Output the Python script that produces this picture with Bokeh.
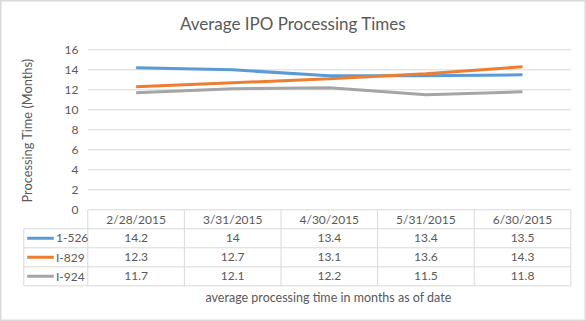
import math
from bokeh.plotting import figure
from bokeh.models import Range1d, Label
from bokeh.core.properties import value
from bokeh.embed import file_html
from bokeh.resources import INLINE

# ---------------- data ----------------
dates = ["2/28/2015", "3/31/2015", "4/30/2015", "5/31/2015", "6/30/2015"]
series_names = ["1-526", "I-829", "I-924"]
i526 = [14.2, 14, 13.4, 13.4, 13.5]
i829 = [12.3, 12.7, 13.1, 13.6, 14.3]
i924 = [11.7, 12.1, 12.2, 11.5, 11.8]
y_ticks = [0, 2, 4, 6, 8, 10, 12, 14, 16]
title_text = "Average IPO Processing Times"
y_label = "Processing Time (Months)"
x_label = "average processing time in months as of date"

series = [i526, i829, i924]
colors = ["#5B9BD5", "#ED7D31", "#A5A5A5"]

# ---------------- layout (pixels) ----------------
W, H = 586, 321
FONT = "Lato"
TXT = "#595959"
GRID = "#D9D9D9"
plot_left, plot_right = 87.3, 570.3
y0_px = 209.3          # pixel row of value 0
px_per_unit = 10.0     # pixels per month on the value axis
n = len(dates)
cat_w = (plot_right - plot_left) / n

x_start = -0.5 - plot_left / cat_w
x_end = -0.5 + (W - plot_left) / cat_w
y_end = y0_px / px_per_unit
y_start = -(H - y0_px) / px_per_unit

def dx(px):
    return x_start + px / cat_w

def dy(px):
    return y_end - px / px_per_unit

p = figure(width=W, height=H, output_backend="svg", toolbar_location=None,
           x_range=Range1d(x_start, x_end), y_range=Range1d(y_start, y_end),
           x_axis_location=None, y_axis_location=None, min_border=0,
           tools="")
p.grid.visible = False
p.outline_line_color = GRID
p.outline_line_width = 2
p.background_fill_color = "white"
p.border_fill_color = "white"

# gridlines
p.segment(x0=[-0.5] * len(y_ticks), x1=[n - 0.5] * len(y_ticks), y0=y_ticks, y1=y_ticks,
          line_color=GRID, line_width=1)

# y tick labels
p.text(x=[dx(78)] * len(y_ticks), y=y_ticks, text=[str(t) for t in y_ticks],
       text_align="right", text_baseline="middle", text_font=value(FONT),
       text_font_size="12px", text_color=TXT)

# series lines
xs = list(range(n))
for s, c in zip(series, colors):
    p.line(x=xs, y=s, line_color=c, line_width=3)

# data table
row_h = 19.0 / px_per_unit
n_rows = len(series)
tbl_left = dx(23.3)
bottom = -row_h * (n_rows + 1)
# horizontal lines
hy = [-row_h * (k + 1) for k in range(n_rows + 1)]
p.segment(x0=[tbl_left] * len(hy), x1=[n - 0.5] * len(hy), y0=hy, y1=hy,
          line_color=GRID, line_width=1)
# vertical lines (category columns)
vx = [i - 0.5 for i in range(n + 1)]
p.segment(x0=vx, x1=vx, y0=[0] * len(vx), y1=[bottom] * len(vx),
          line_color=GRID, line_width=1)
# row-header left border
p.segment(x0=[tbl_left], x1=[tbl_left], y0=[-row_h], y1=[bottom],
          line_color=GRID, line_width=1)

# header texts
p.text(x=xs, y=[-row_h / 2] * n, text=dates, text_align="center", text_baseline="middle",
       text_font=value(FONT), text_font_size="12px", text_color=TXT)
# value texts
for r, s in enumerate(series):
    yc = -row_h * (r + 1) - row_h / 2
    p.text(x=xs, y=[yc] * n, text=[("%g" % v) for v in s], text_align="center",
           text_baseline="middle", text_font=value(FONT), text_font_size="12px",
           text_color=TXT)
    # legend key and name
    p.segment(x0=[dx(26.7)], x1=[dx(53.3)], y0=[yc], y1=[yc], line_color=colors[r], line_width=3)
    p.text(x=[dx(55.5)], y=[yc], text=[series_names[r]], text_align="left",
           text_baseline="middle", text_font=value(FONT), text_font_size="12px",
           text_color=TXT)

# title and axis titles
p.add_layout(Label(x=292.5, y=H - 23, x_units="screen", y_units="screen", text=title_text,
                   text_align="center", text_baseline="middle", text_font=FONT,
                   text_font_size="17px", text_color=TXT))
p.add_layout(Label(x=26, y=H - 130, x_units="screen", y_units="screen", text=y_label,
                   angle=math.pi / 2, text_align="center", text_baseline="middle",
                   text_font=FONT, text_font_size="12.8px", text_color=TXT))
p.add_layout(Label(x=328, y=H - 297, x_units="screen", y_units="screen", text=x_label,
                   text_align="center", text_baseline="middle", text_font=FONT,
                   text_font_size="12.5px", text_color=TXT))

open("out.html", "w").write(file_html(p, INLINE))
